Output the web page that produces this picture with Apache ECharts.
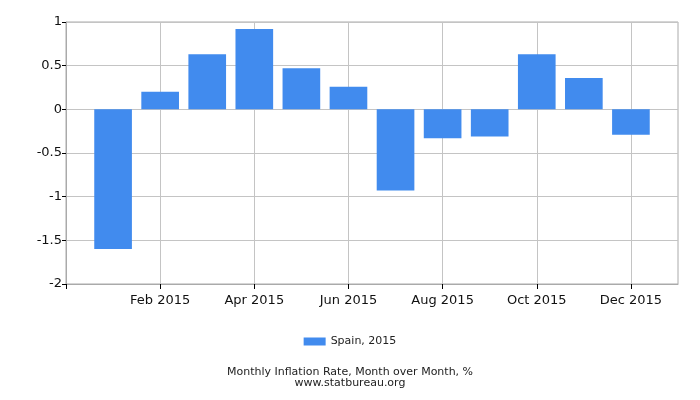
<!DOCTYPE html>
<html lang="en">

<head>
    <meta charset="UTF-8">
    <title>Spain inflation 2015</title>
</head>

<body style="margin:0">
    <div id="main" style="width: 700px;height:400px;"></div>
</body>
<script src="https://cdn.jsdelivr.net/npm/echarts@6/dist/echarts.min.js"></script>

<script>
    // month slots, padded by one empty slot on each side
    var months = ['Dec 2014', 'Jan 2015', 'Feb 2015', 'Mar 2015', 'Apr 2015', 'May 2015', 'Jun 2015',
        'Jul 2015', 'Aug 2015', 'Sep 2015', 'Oct 2015', 'Nov 2015', 'Dec 2015', 'Jan 2016'];
    var labelled = ['Feb 2015', 'Apr 2015', 'Jun 2015', 'Aug 2015', 'Oct 2015', 'Dec 2015'];
    var spain = [null, -1.6, 0.2, 0.63, 0.92, 0.47, 0.26, -0.93, -0.33, -0.31, 0.63, 0.36, -0.29, null];
    var seriesName = 'Spain, 2015';

    var font = 'DejaVu Sans';

    function isLabelled(i) {
        return labelled.indexOf(months[i]) >= 0;
    }

    var myChart = echarts.init(document.getElementById('main'));
    myChart.setOption({
        animation: false,
        textStyle: { fontFamily: font },
        title: {
            text: 'Monthly Inflation Rate, Month over Month, %\nwww.statbureau.org',
            left: 'center',
            top: 362,
            textStyle: { fontSize: 11, fontWeight: 'normal', color: '#222', lineHeight: 11, fontFamily: font }
        },
        legend: {
            data: [{ name: seriesName, icon: 'rect' }],
            top: 331,
            left: 'center',
            itemWidth: 22,
            itemHeight: 8,
            itemGap: 6,
            textStyle: { fontSize: 11, color: '#222', fontFamily: font }
        },
        grid: {
            left: 66,
            right: 22,
            top: 22,
            bottom: 116,
            show: true,
            borderColor: '#aaa',
            borderWidth: 1
        },
        xAxis: {
            type: 'category',
            data: months,
            boundaryGap: false,
            axisLine: { onZero: false, lineStyle: { color: '#aaa' } },
            axisTick: {
                length: 5,
                lineStyle: { color: '#000' },
                interval: function (i) { return i === 0 || isLabelled(i); }
            },
            axisLabel: {
                interval: function (i) { return isLabelled(i); },
                fontSize: 13,
                color: '#111',
                margin: 10
            },
            splitLine: {
                show: true,
                interval: function (i) { return isLabelled(i); },
                lineStyle: { color: '#c4c4c4' }
            }
        },
        yAxis: {
            type: 'value',
            min: -2,
            max: 1,
            interval: 0.5,
            axisLine: { show: true, lineStyle: { color: '#aaa' } },
            axisTick: { show: true, length: 4, lineStyle: { color: '#000' } },
            axisLabel: { fontSize: 13, color: '#111', margin: 4 },
            splitLine: { lineStyle: { color: '#c4c4c4' } }
        },
        series: [{
            name: seriesName,
            type: 'bar',
            data: spain,
            barWidth: '80%',
            itemStyle: { color: '#418bee' }
        }]
    });
</script>

</html>
